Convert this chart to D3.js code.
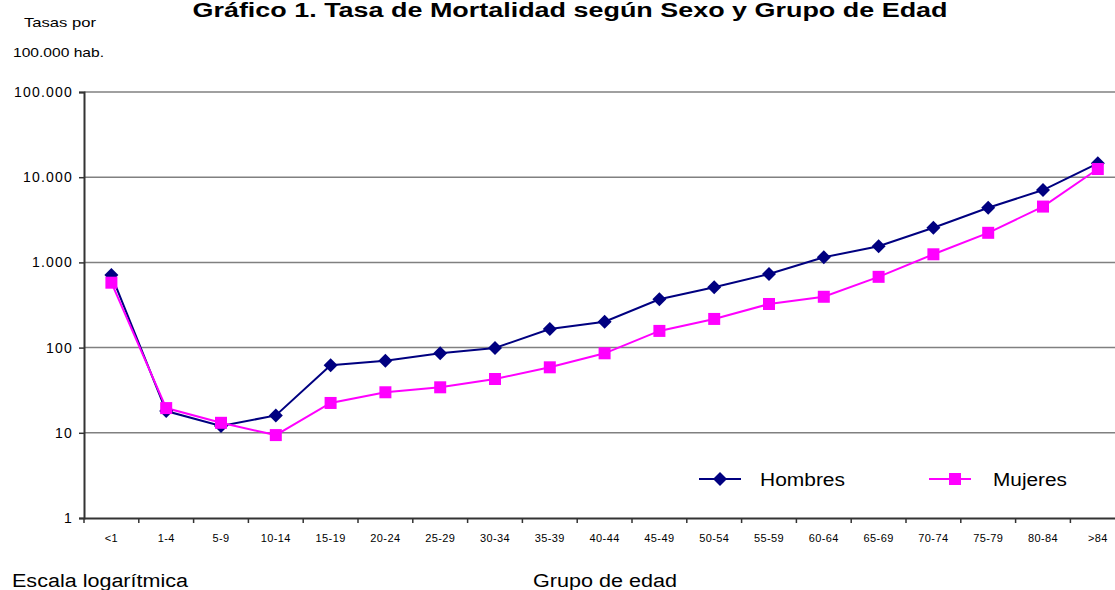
<!DOCTYPE html>
<html><head><meta charset="utf-8">
<script src="https://cdn.jsdelivr.net/npm/d3@7"></script>
<style>body{margin:0;background:#fff;overflow:hidden}svg{display:block;font-family:Arial,"Liberation Sans",sans-serif}</style>
</head><body>
<svg id="c" width="1115" height="590"></svg>
<script>
const categories = ["<1","1-4","5-9","10-14","15-19","20-24","25-29","30-34","35-39","40-44","45-49","50-54","55-59","60-64","65-69","70-74","75-79","80-84",">84"];
const hombres = [710,18,12,16,62,70,86,99,165,201,369,510,731,1148,1550,2553,4385,7070,14560];
const mujeres = [578,19.5,13.1,9.4,22.4,29.9,34.2,42.8,58.7,85.7,157,217,325,395,677,1245,2225,4520,12470];
const yTicks = [1,10,100,1000,10000,100000];
const seriesNames = ["Hombres","Mujeres"];

const svg = d3.select("#c");
const L=84, R=84+19*54.8, T=92, B=518;
const x = d3.scaleBand().domain(categories).range([L,R]);
const y = d3.scaleLog().domain([1,100000]).range([B,T]);
const fmt = v => d3.format(",")(v).replace(/,/g,".");

// title
svg.append("text").attr("x",570).attr("y",17).attr("text-anchor","middle")
  .attr("font-size",20).attr("font-weight","bold").attr("textLength",755).attr("lengthAdjust","spacingAndGlyphs")
  .text("Gráfico 1. Tasa de Mortalidad según Sexo y Grupo de Edad");
svg.append("text").attr("x",24).attr("y",27).attr("font-size",13).attr("textLength",72).attr("lengthAdjust","spacingAndGlyphs").text("Tasas por");
svg.append("text").attr("x",13).attr("y",57).attr("font-size",13).attr("textLength",91).attr("lengthAdjust","spacingAndGlyphs").text("100.000 hab.");

// gridlines
svg.append("g").selectAll("line").data(yTicks.slice(1)).join("line")
  .attr("x1",L).attr("x2",1115).attr("y1",d=>y(d)).attr("y2",d=>y(d))
  .attr("stroke","#808080").attr("stroke-width",1.5);

// y axis
const ya = svg.append("g").attr("transform",`translate(${L},0)`)
  .call(d3.axisLeft(y).tickValues(yTicks).tickFormat(fmt).tickSize(5).tickPadding(6));
ya.select(".domain").attr("stroke","#333").attr("stroke-width",2);
ya.selectAll(".tick line").attr("stroke","#333").attr("stroke-width",1.5);
ya.selectAll(".tick text").attr("font-size",14).attr("fill","#000").attr("font-family","Arial,'Liberation Sans',sans-serif").attr("letter-spacing",1.2);

// x axis
const xa = svg.append("g").attr("transform",`translate(0,${B})`)
  .call(d3.axisBottom(x).tickSize(0).tickPadding(16));
xa.select(".domain").attr("stroke","#333").attr("stroke-width",2);
xa.selectAll(".tick text").attr("font-size",11).attr("fill","#000").attr("font-family","Arial,'Liberation Sans',sans-serif").attr("letter-spacing",0.4);
const bounds = categories.map(c=>x(c)).concat([R]);
xa.append("g").selectAll("line").data(bounds).join("line")
  .attr("x1",d=>d).attr("x2",d=>d).attr("y1",0).attr("y2",5).attr("stroke","#333").attr("stroke-width",1.5);

const cx = c => x(c)+x.bandwidth()/2;
const line = d3.line().x((d,i)=>cx(categories[i])).y(d=>y(d));
const colors = ["#000080","#FF00FF"];

svg.append("path").datum(hombres).attr("d",line).attr("fill","none").attr("stroke",colors[0]).attr("stroke-width",2);
svg.append("path").datum(mujeres).attr("d",line).attr("fill","none").attr("stroke",colors[1]).attr("stroke-width",2);

function dia(g,cxv,cyv){ g.append("path").attr("d","M0,-7L7,0L0,7L-7,0Z").attr("transform",`translate(${cxv},${cyv})`).attr("fill",colors[0]); }
function sq(g,cxv,cyv){ g.append("rect").attr("x",cxv-6).attr("y",cyv-6).attr("width",12).attr("height",12).attr("fill",colors[1]); }

const gh = svg.append("g");
hombres.forEach((v,i)=>dia(gh,cx(categories[i]),y(v)));
const gm = svg.append("g");
mujeres.forEach((v,i)=>sq(gm,cx(categories[i]),y(v)));

// legend
const lg = svg.append("g");
lg.append("line").attr("x1",699).attr("x2",741).attr("y1",479).attr("y2",479).attr("stroke",colors[0]).attr("stroke-width",2);
dia(lg,720,479);
lg.append("text").attr("x",760).attr("y",486).attr("font-size",18).attr("textLength",85).attr("lengthAdjust","spacingAndGlyphs").text(seriesNames[0]);
lg.append("line").attr("x1",929).attr("x2",971).attr("y1",479).attr("y2",479).attr("stroke",colors[1]).attr("stroke-width",2);
sq(lg,955,479);
lg.append("text").attr("x",993).attr("y",486).attr("font-size",18).attr("textLength",74).attr("lengthAdjust","spacingAndGlyphs").text(seriesNames[1]);

svg.append("text").attr("x",12).attr("y",587).attr("font-size",18).attr("textLength",176).attr("lengthAdjust","spacingAndGlyphs").text("Escala logarítmica");
svg.append("text").attr("x",533).attr("y",587).attr("font-size",18).attr("textLength",144).attr("lengthAdjust","spacingAndGlyphs").text("Grupo de edad");
</script>
</body></html>
